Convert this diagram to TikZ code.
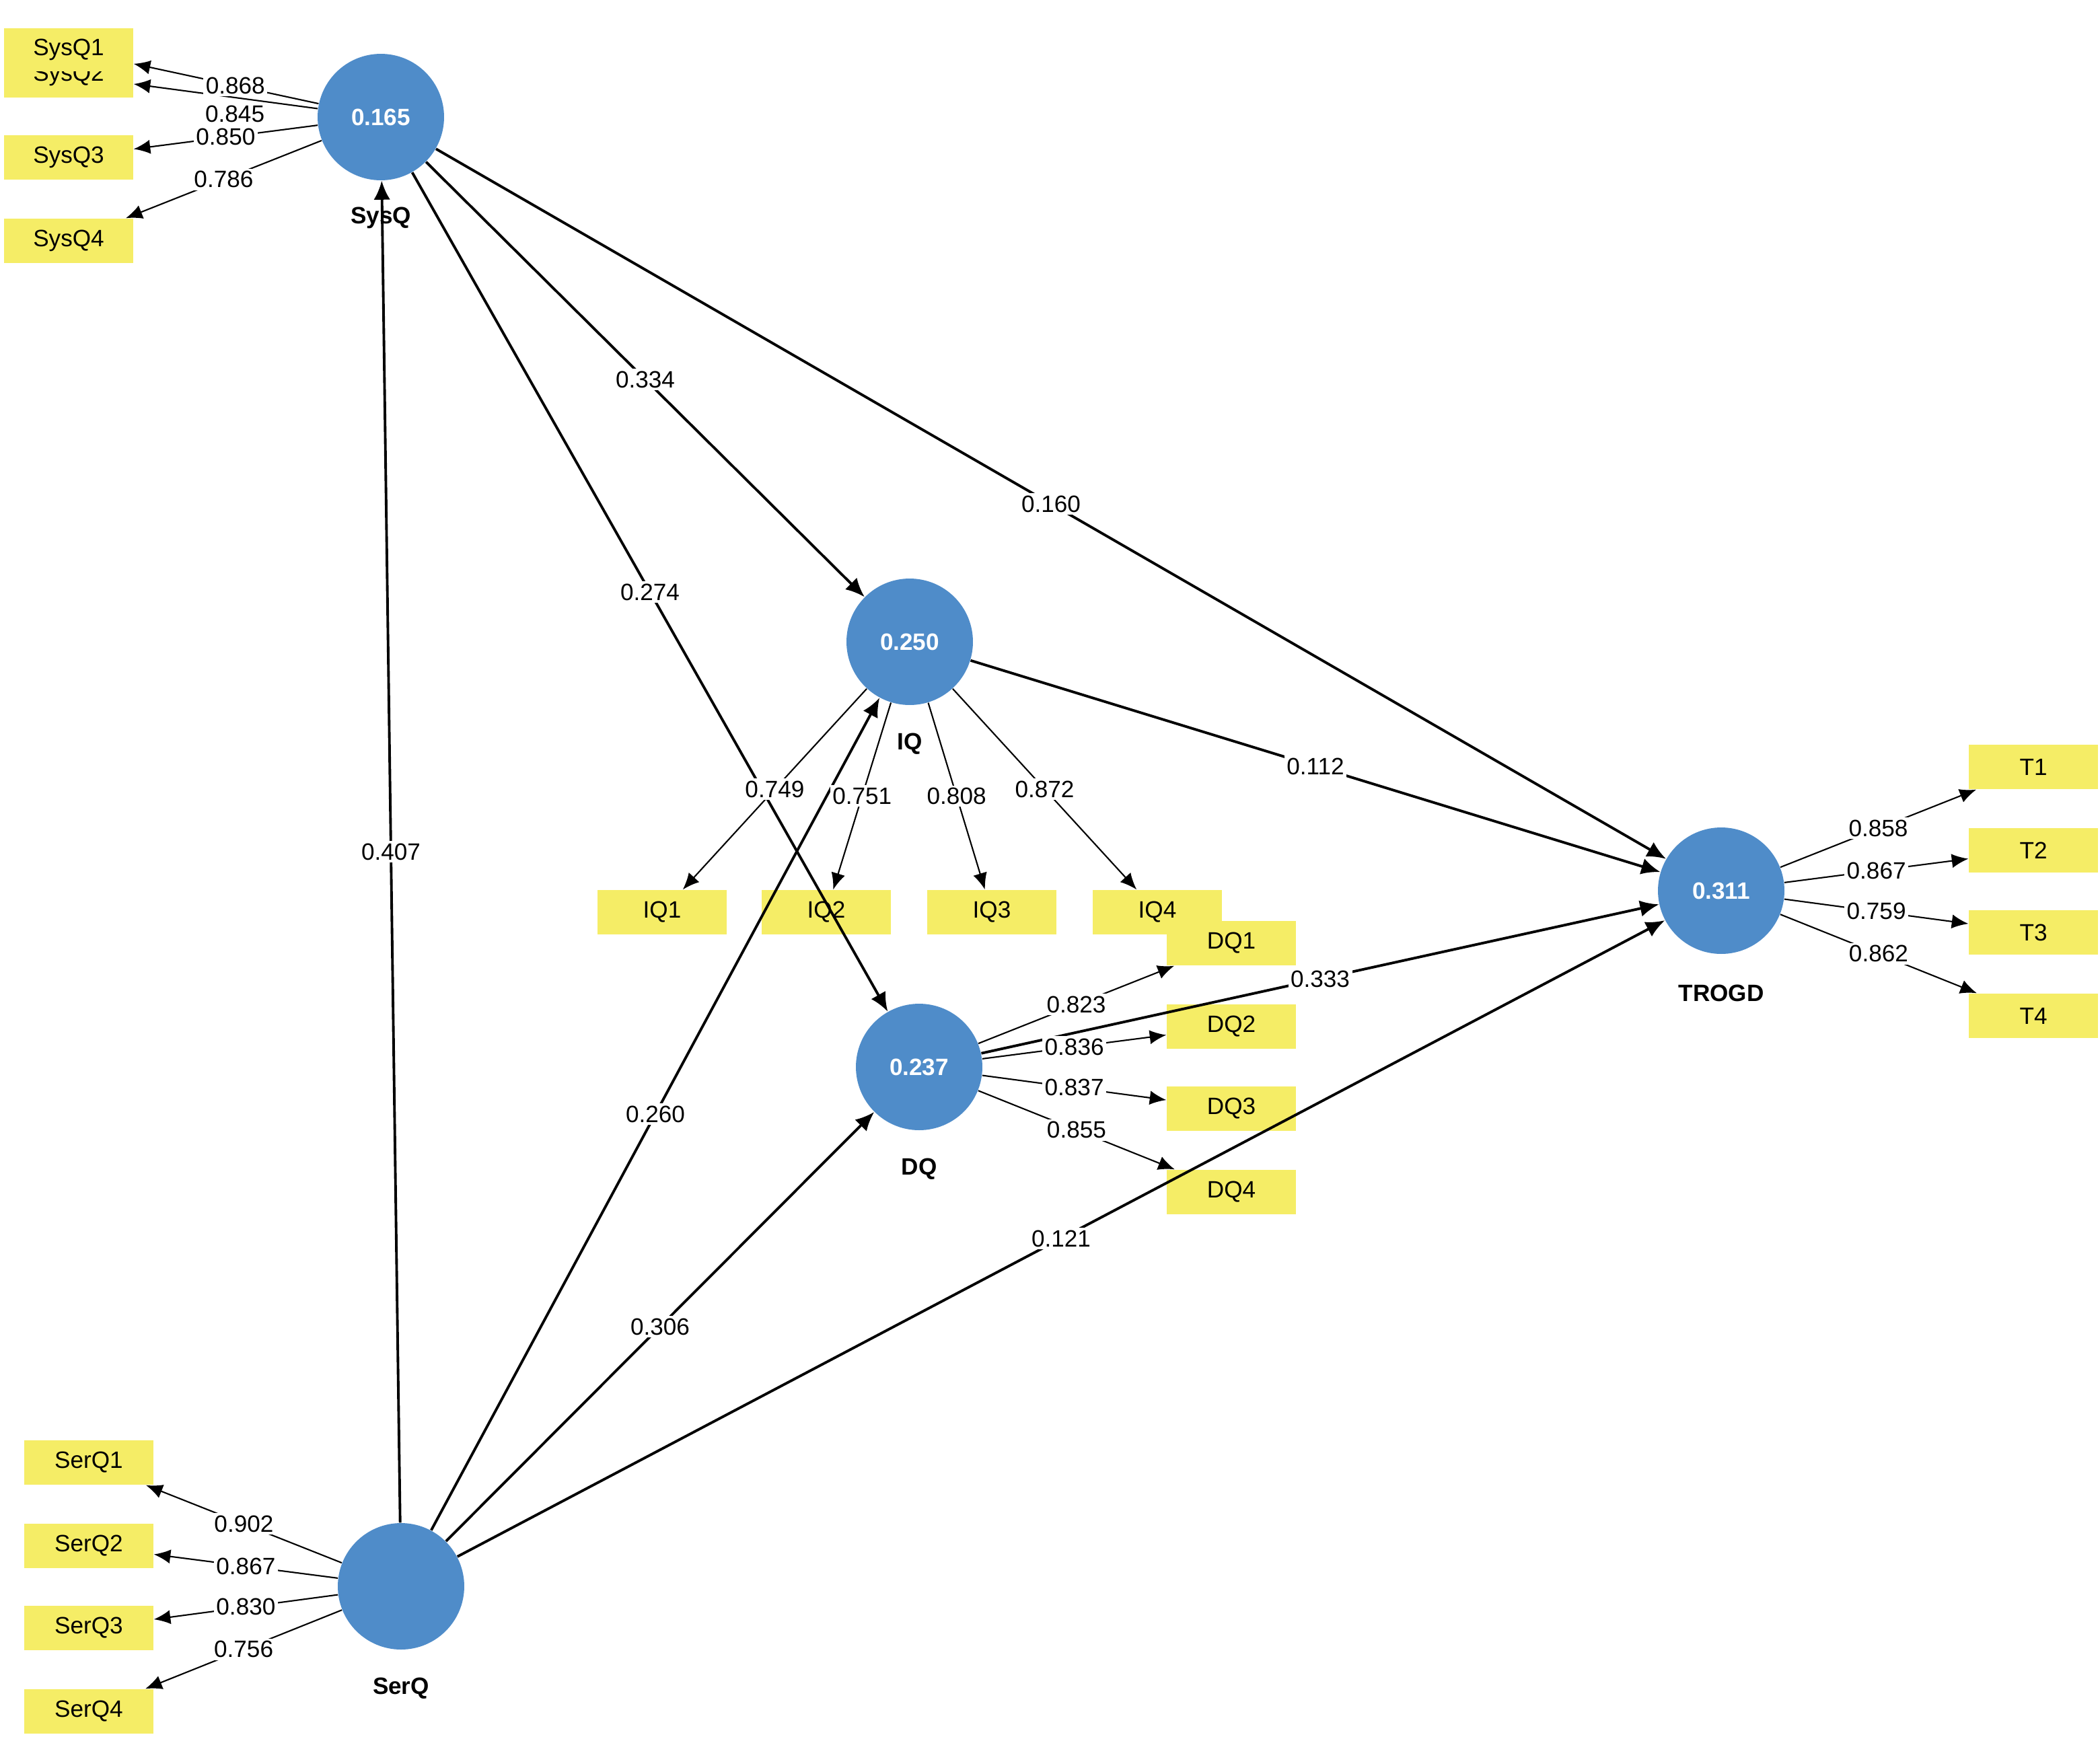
\documentclass[tikz,border=0pt]{standalone}
\usepackage{fontspec}
\setmainfont{Liberation Sans}
\usetikzlibrary{arrows.meta}
\definecolor{lv}{RGB}{79,140,201}
\definecolor{mv}{RGB}{245,237,102}
\begin{document}
\begin{tikzpicture}[x=0.02cm,y=-0.02cm,
  font=\fontsize{10}{12}\selectfont,
  lat/.style={circle,fill=lv,minimum size=1.88cm,inner sep=0pt,text=white,font=\fontsize{10}{12}\selectfont\bfseries},
  ind/.style={rectangle,fill=mv,minimum width=1.92cm,minimum height=0.66cm,inner sep=0pt},
  lvname/.style={font=\fontsize{10}{12}\selectfont\bfseries},
  path/.style={-{Latex[length=8pt,width=7pt]},line width=1.1pt},
  load/.style={-{Latex[length=7pt,width=6pt]},line width=0.6pt},
  val/.style={fill=white,inner sep=1pt,midway}]
\useasboundingbox (0,0) rectangle (1560.5,1292);
% captions (behind arrows)
\node[lvname] (csys) at (283,162) {SysQ};
\node[lvname] (ciq) at (676,553) {IQ};
\node[lvname] (cdq) at (683,869) {DQ};
\node[lvname] (ctr) at (1279,738) {TROGD};
\node[lvname] (cser) at (298,1255) {SerQ};
% indicators
\node[ind] (s2) at (51,56) {SysQ2};
\node[ind,minimum height=0.64cm] (s1) at (51,37) {SysQ1};
\node[ind] (s3) at (51,117) {SysQ3};
\node[ind] (s4) at (51,179) {SysQ4};
\node[ind] (i1) at (492,678) {IQ1};
\node[ind] (i2) at (614,678) {IQ2};
\node[ind] (i3) at (737,678) {IQ3};
\node[ind] (i4) at (860,678) {IQ4};
\node[ind] (d1) at (915,701) {DQ1};
\node[ind] (d2) at (915,763) {DQ2};
\node[ind] (d3) at (915,824) {DQ3};
\node[ind] (d4) at (915,886) {DQ4};
\node[ind] (t1) at (1511,570) {T1};
\node[ind] (t2) at (1511,632) {T2};
\node[ind] (t3) at (1511,693) {T3};
\node[ind] (t4) at (1511,755) {T4};
\node[ind] (r1) at (66,1087) {SerQ1};
\node[ind] (r2) at (66,1149) {SerQ2};
\node[ind] (r3) at (66,1210) {SerQ3};
\node[ind] (r4) at (66,1272) {SerQ4};
% latent
\node[lat] (sys) at (283,87) {0.165};
\node[lat] (iq) at (676,477) {0.250};
\node[lat] (dq) at (683,793) {0.237};
\node[lat] (tr) at (1279,662) {0.311};
\node[lat] (ser) at (298,1179) {};
% structural paths
\draw[path] (sys) -- node[val] {0.334} (iq);
\draw[path] (sys) -- node[val] {0.160} (tr);
\draw[path] (sys) -- node[val] {0.274} (dq);
\draw[path] (iq) -- node[val] {0.112} (tr);
\draw[path] (dq) -- node[val] {0.333} (tr);
\draw[path] (ser) -- node[val] {0.407} (sys);
\draw[path] (ser) -- node[val] {0.260} (iq);
\draw[path] (ser) -- node[val] {0.306} (dq);
\draw[path] (ser) -- node[val] {0.121} (tr);
% loadings
\draw[load] (sys) -- node[val,pos=0.45,yshift=-7] {0.845} (s2);
\draw[load] (sys) -- node[val,pos=0.45] {0.868} (s1);
\draw[load] (sys) -- node[val] {0.850} (s3);
\draw[load] (sys) -- node[val] {0.786} (s4);
\draw[load] (iq) -- node[val] {0.749} (i1);
\draw[load] (iq) -- node[val] {0.751} (i2);
\draw[load] (iq) -- node[val] {0.808} (i3);
\draw[load] (iq) -- node[val] {0.872} (i4);
\draw[load] (dq) -- node[val] {0.823} (d1);
\draw[load] (dq) -- node[val] {0.836} (d2);
\draw[load] (dq) -- node[val] {0.837} (d3);
\draw[load] (dq) -- node[val] {0.855} (d4);
\draw[load] (tr) -- node[val] {0.858} (t1);
\draw[load] (tr) -- node[val] {0.867} (t2);
\draw[load] (tr) -- node[val] {0.759} (t3);
\draw[load] (tr) -- node[val] {0.862} (t4);
\draw[load] (ser) -- node[val] {0.902} (r1);
\draw[load] (ser) -- node[val] {0.867} (r2);
\draw[load] (ser) -- node[val] {0.830} (r3);
\draw[load] (ser) -- node[val] {0.756} (r4);
\end{tikzpicture}
\end{document}
